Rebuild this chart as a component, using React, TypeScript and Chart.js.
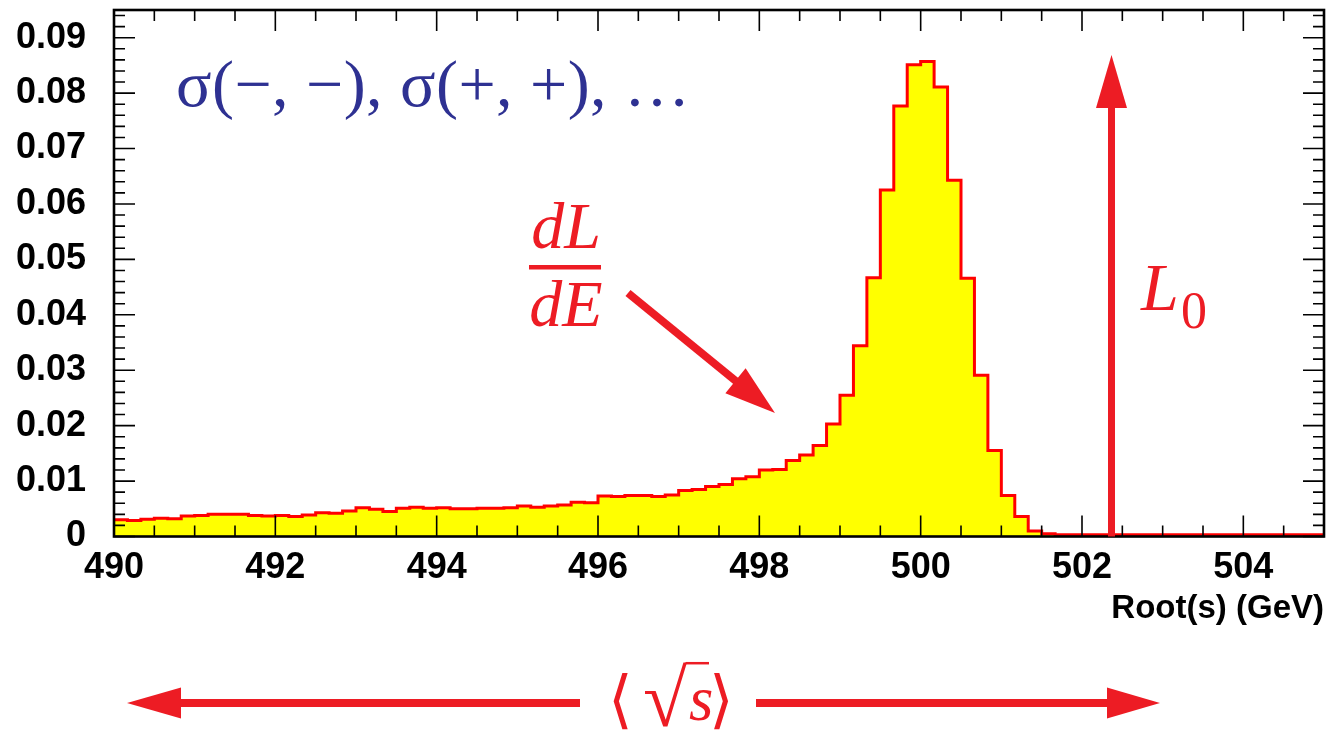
import React, { useEffect, useRef } from 'react';
import { Chart, registerables } from 'chart.js';

Chart.register(...registerables);

// ---------------- data ----------------
const xRangeMin = 490;
const xRangeMax = 505;
const binWidth = 1 / 6;
// dL/dE per bin (bins of 1/6 GeV from 490 to 505)
const luminosity = [
  0.0030, 0.0029, 0.0031, 0.0033, 0.0032, 0.0037, 0.0038, 0.0040, 0.0040, 0.0040,
  0.0038, 0.0037, 0.0038, 0.0036, 0.0039, 0.0043, 0.0042, 0.0046, 0.0052, 0.0049,
  0.0045, 0.0051, 0.0053, 0.0051, 0.0052, 0.0050, 0.0050, 0.0051, 0.0051, 0.0052,
  0.0055, 0.0053, 0.0055, 0.0057, 0.0062, 0.0061, 0.0073, 0.0072, 0.0074, 0.0074,
  0.0072, 0.0075, 0.0083, 0.0085, 0.0090, 0.0094, 0.0104, 0.0108, 0.0120, 0.0121,
  0.0137, 0.0147, 0.0164, 0.0203, 0.0255, 0.0344, 0.0467, 0.0625, 0.0777, 0.0851,
  0.0857, 0.0811, 0.0643, 0.0466, 0.0291, 0.0155, 0.0074, 0.0036, 0.0010, 0.0005,
  0.0003, 0.0003, 0.0003, 0.0003, 0.0003, 0.0003, 0.0003, 0.0003, 0.0003, 0.0003,
  0.0003, 0.0003, 0.0003, 0.0003, 0.0003, 0.0003, 0.0003, 0.0003, 0.0003, 0.0003,
];
const xMajorStep = 2;
const xMinorStep = 0.5;
const yRangeMax = 0.095;
const yMajorStep = 0.01;
const yMinorStep = 0.002;
const xAxisTitle = 'Root(s) (GeV)';
const processLabel = 'σ(−, −), σ(+, +), …';
const fractionTop = 'dL';
const fractionBottom = 'dE';
const nominalLabel = 'L';
const nominalSub = '0';

// ---------------- styles ----------------
const ANN_RED = '#ed1c24';
const ANN_BLUE = '#2e3192';
const SANS = '"Liberation Sans", Arial, Helvetica, sans-serif';
const SERIF = '"Liberation Serif", "Times New Roman", "DejaVu Serif", serif';
const BRACKET_FONT = '"DejaVu Sans", "DejaVu Serif", "Noto Sans CJK SC", serif';

function arrow(ctx: CanvasRenderingContext2D, x1: number, y1: number, x2: number, y2: number,
  shaft: number, headLen: number, headHalf: number, color: string) {
  const dx = x2 - x1, dy = y2 - y1;
  const L = Math.hypot(dx, dy);
  const ux = dx / L, uy = dy / L;
  const bx = x2 - ux * headLen, by = y2 - uy * headLen;
  ctx.save();
  ctx.strokeStyle = color;
  ctx.fillStyle = color;
  ctx.lineWidth = shaft;
  ctx.lineCap = 'butt';
  ctx.beginPath();
  ctx.moveTo(x1, y1);
  ctx.lineTo(bx + ux * 2, by + uy * 2);
  ctx.stroke();
  ctx.beginPath();
  ctx.moveTo(x2, y2);
  ctx.lineTo(bx - uy * headHalf, by + ux * headHalf);
  ctx.lineTo(bx + uy * headHalf, by - ux * headHalf);
  ctx.closePath();
  ctx.fill();
  ctx.restore();
}

function fitGlyph(ctx: CanvasRenderingContext2D, text: string, font: (s: number) => string,
  left: number, top: number, height: number) {
  ctx.font = font(100);
  const m = ctx.measureText(text);
  const h = m.actualBoundingBoxAscent + m.actualBoundingBoxDescent;
  const size = (100 * height) / h;
  ctx.font = font(size);
  const m2 = ctx.measureText(text);
  const x = left + m2.actualBoundingBoxLeft;
  const y = top + m2.actualBoundingBoxAscent;
  ctx.fillText(text, x, y);
  return { right: x + m2.actualBoundingBoxRight, top };
}

const frameTicksPlugin = {
  id: 'frameTicks',
  afterDatasetsDraw(chart: any) {
    const { ctx, chartArea: a, scales } = chart;
    const xs = scales.x, ys = scales.y;
    ctx.save();
    ctx.strokeStyle = '#000';
    ctx.lineWidth = 1.6;
    ctx.beginPath();
    const nx = Math.round((xRangeMax - xRangeMin) / xMinorStep);
    for (let i = 0; i <= nx; i++) {
      const v = xRangeMin + i * xMinorStep;
      const major = Math.abs(v / xMajorStep - Math.round(v / xMajorStep)) < 1e-6;
      const len = major ? 21 : 11;
      const px = xs.getPixelForValue(v);
      ctx.moveTo(px, a.bottom);
      ctx.lineTo(px, a.bottom - len);
      ctx.moveTo(px, a.top);
      ctx.lineTo(px, a.top + len);
    }
    const ny = Math.floor(yRangeMax / yMinorStep + 1e-6);
    for (let i = 0; i <= ny; i++) {
      const v = i * yMinorStep;
      const major = i % Math.round(yMajorStep / yMinorStep) === 0;
      const len = major ? 21 : 11;
      const py = ys.getPixelForValue(v);
      ctx.moveTo(a.left, py);
      ctx.lineTo(a.left + len, py);
      ctx.moveTo(a.right, py);
      ctx.lineTo(a.right - len, py);
    }
    ctx.stroke();
    ctx.lineWidth = 2.6;
    ctx.strokeRect(a.left, a.top, a.right - a.left, a.bottom - a.top);
    ctx.restore();
  },
};

const annotationPlugin = {
  id: 'annotations',
  afterDraw(chart: any) {
    const ctx: CanvasRenderingContext2D = chart.ctx;
    ctx.save();
    ctx.textAlign = 'left';
    ctx.textBaseline = 'alphabetic';

    // process label (blue)
    ctx.fillStyle = ANN_BLUE;
    ctx.font = `66px ${SERIF}`;
    const natural = ctx.measureText(processLabel).width;
    const target = 514;
    const anyCtx = ctx as any;
    if ('letterSpacing' in anyCtx) {
      const n = Array.from(processLabel).length;
      anyCtx.letterSpacing = `${(target - natural) / (n - 1)}px`;
      ctx.fillText(processLabel, 176, 106);
      anyCtx.letterSpacing = '0px';
    } else {
      ctx.save();
      ctx.translate(176, 106);
      ctx.scale(target / natural, 1);
      ctx.fillText(processLabel, 0, 0);
      ctx.restore();
    }

    // dL/dE fraction
    ctx.fillStyle = ANN_RED;
    ctx.font = `italic 66px ${SERIF}`;
    ctx.textAlign = 'center';
    ctx.fillText(fractionTop, 566, 248);
    ctx.fillText(fractionBottom, 566, 326);
    ctx.fillRect(529, 265, 72, 4.5);
    ctx.textAlign = 'left';
    arrow(ctx, 628, 293, 775, 413, 8, 51, 16, ANN_RED);

    // L0 arrow and label
    arrow(ctx, 1111.5, chart.chartArea.bottom, 1111.5, 55, 7, 53, 15.5, ANN_RED);
    ctx.fillStyle = ANN_RED;
    ctx.font = `italic 68px ${SERIF}`;
    ctx.fillText(nominalLabel, 1141, 310);
    ctx.font = `52px ${SERIF}`;
    ctx.fillText(nominalSub, 1181, 328);

    // bottom <sqrt(s)> double arrow
    arrow(ctx, 580, 703, 127, 703, 8, 54, 15.5, ANN_RED);
    arrow(ctx, 756, 703, 1160, 703, 8, 53, 15.5, ANN_RED);
    ctx.fillStyle = ANN_RED;
    fitGlyph(ctx, '⟨', (s) => `${s}px ${BRACKET_FONT}`, 613, 672, 57);
    const rad = fitGlyph(ctx, '√', (s) => `${s}px ${SERIF}`, 645, 662, 65);
    ctx.strokeStyle = ANN_RED;
    ctx.lineWidth = 2.5;
    ctx.beginPath();
    ctx.moveTo(rad.right - 1.5, 663.2);
    ctx.lineTo(709, 663.2);
    ctx.stroke();
    fitGlyph(ctx, 's', (s) => `italic ${s}px ${SERIF}`, 689, 690, 30);
    fitGlyph(ctx, '⟩', (s) => `${s}px ${BRACKET_FONT}`, 714, 672, 57);

    ctx.restore();
  },
};

export default function App() {
  const canvasRef = useRef<HTMLCanvasElement | null>(null);

  useEffect(() => {
    const canvas = canvasRef.current;
    if (!canvas) return;
    const points = luminosity.map((v, i) => ({ x: xRangeMin + i * binWidth, y: v }));
    points.push({ x: xRangeMax, y: luminosity[luminosity.length - 1] });

    const chart = new Chart(canvas, {
      type: 'line',
      data: {
        datasets: [
          {
            data: points,
            stepped: true,
            borderColor: '#ff0000',
            borderWidth: 3,
            backgroundColor: '#ffff00',
            fill: 'origin',
            pointRadius: 0,
            tension: 0,
          },
        ],
      },
      options: {
        responsive: false,
        animation: false,
        events: [],
        layout: { padding: { left: 0, right: 4, top: 10, bottom: 104.5 } },
        plugins: {
          legend: { display: false },
          tooltip: { enabled: false },
        },
        scales: {
          x: {
            type: 'linear',
            min: xRangeMin,
            max: xRangeMax,
            grid: { display: false, drawTicks: false },
            border: { display: false },
            ticks: {
              stepSize: xMajorStep,
              includeBounds: false,
              autoSkip: false,
              maxRotation: 0,
              padding: 10,
              color: '#000',
              font: { family: SANS, size: 36, weight: 'bold' },
            },
            title: {
              display: true,
              text: xAxisTitle,
              align: 'end',
              color: '#000',
              padding: { top: 0, bottom: 0 },
              font: { family: SANS, size: 33, weight: 'bold' },
            },
            afterFit: (s: any) => {
              s.height = 92;
              s.paddingLeft = 0;
              s.paddingRight = 0;
            },
          },
          y: {
            type: 'linear',
            min: 0,
            max: yRangeMax,
            grid: { display: false, drawTicks: false },
            border: { display: false },
            ticks: {
              stepSize: yMajorStep,
              includeBounds: false,
              padding: 28,
              color: '#000',
              font: { family: SANS, size: 36, weight: 'bold' },
              callback: (v: any) => (Number(v) === 0 ? '0' : Number(v).toFixed(2)),
            },
            afterFit: (s: any) => {
              s.width = 114;
              s.paddingTop = 0;
              s.paddingBottom = 0;
            },
          },
        },
      } as any,
      plugins: [frameTicksPlugin, annotationPlugin],
    });
    return () => chart.destroy();
  }, []);

  return (
    <div style={{ position: 'absolute', left: 0, top: 0, width: 1328, height: 733, background: '#fff' }}>
      <canvas ref={canvasRef} width={1328} height={733} style={{ display: 'block' }} />
    </div>
  );
}
